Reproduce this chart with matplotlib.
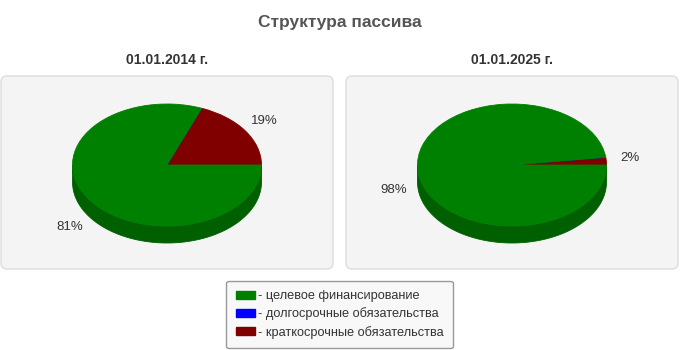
import matplotlib.pyplot as plt
import numpy as np
from matplotlib.patches import FancyBboxPatch, Polygon, Patch

plt.rcParams['font.family'] = ['Liberation Sans', 'DejaVu Sans']

series = ['целевое финансирование', 'долгосрочные обязательства', 'краткосрочные обязательства']
colors = ['#008000', '#0000ff', '#800000']
side_colors = ['#006000', '#0000c0', '#600000']
dates = ['01.01.2014 г.', '01.01.2025 г.']
# order in which slices are drawn (counterclockwise from 3 o'clock)
vals_2014 = [81, 0, 19]
vals_2025 = [98, 0, 2]
slice_order = [2, 1, 0]

W, H = 680, 350
fig = plt.figure(figsize=(6.8, 3.5), dpi=100)
bg = fig.add_axes([0, 0, 1, 1])
bg.set_xlim(0, W)
bg.set_ylim(H, 0)
bg.axis('off')

bg.text(340, 22, 'Структура пассива', ha='center', va='center',
        fontsize=12.5, fontweight='bold', color='#555555')

RX, RY, DEPTH = 94.5, 61.0, 17.0


def draw_pie(cx, cy, vals, title, panel_x):
    bg.add_patch(FancyBboxPatch((panel_x + 4, 79), 326, 187,
                                boxstyle='round,pad=3,rounding_size=6',
                                fc='#f4f4f4', ec='#dddddd', lw=1))
    bg.text(cx, 60, title, ha='center', va='center', fontsize=10,
            fontweight='bold', color='#333333')
    # axes in px, data units scaled so radius 1 -> RX / RY px
    xl = (-1.4, 1.4)
    yl = (-1.6, 1.3)
    left = cx + xl[0] * RX
    width = (xl[1] - xl[0]) * RX
    bottom = H - (cy - yl[0] * RY)
    height = (yl[1] - yl[0]) * RY
    ax = fig.add_axes([left / W, bottom / H, width / W, height / H])
    d = DEPTH / RY

    ordered = [vals[i] for i in slice_order]
    cols = [colors[i] for i in slice_order]
    scols = [side_colors[i] for i in slice_order]
    total = float(sum(ordered))
    start = 0.0
    for v, sc in zip(ordered, scols):
        a0 = start
        a1 = start + 360.0 * v / total
        start = a1
        lo, hi = max(a0, 180.0), min(a1, 360.0)
        if hi > lo:
            t = np.radians(np.linspace(lo, hi, 120))
            xs = np.cos(t)
            ys = np.sin(t)
            pts = np.concatenate([np.column_stack([xs, ys]),
                                  np.column_stack([xs[::-1], ys[::-1] - d])])
            ax.add_patch(Polygon(pts, closed=True, fc=sc, ec=sc, lw=0.6))

    ax.pie(ordered, colors=cols, startangle=0, counterclock=True, radius=1,
           wedgeprops=dict(linewidth=0.6))
    for w, c in zip(ax.patches[-len(ordered):], cols):
        w.set_edgecolor(c)
    ax.set_aspect('auto')
    ax.set_xlim(*xl)
    ax.set_ylim(*yl)
    ax.axis('off')

    start = 0.0
    for v in ordered:
        a = np.radians(start + 180.0 * v / total)
        start += 360.0 * v / total
        if v == 0:
            continue
        lx = 1.25 * np.cos(a)
        ly = 1.22 * np.sin(a)
        if np.sin(a) < 0:
            ly -= d + 0.05
        else:
            ly += 0.04
        ax.text(lx, ly, f'{v}%', ha='center', va='center', fontsize=9.5,
                color='#333333')


draw_pie(167, 165, vals_2014, dates[0], 0)
draw_pie(512, 165, vals_2025, dates[1], 345)

handles = [Patch(fc=c, ec=c) for c in colors]
leg = fig.legend(handles, ['- ' + s for s in series], loc='center',
                 bbox_to_anchor=(339.5 / W, 1 - 314.5 / H), fontsize=9.2,
                 frameon=True, fancybox=True, handlelength=1.5, handleheight=0.5,
                 handletextpad=0.2, labelspacing=0.4, borderpad=0.75,
                 borderaxespad=0)
leg.get_frame().set_facecolor('#f8f8f8')
leg.get_frame().set_edgecolor('#999999')
leg.get_frame().set_alpha(1)
for t in leg.get_texts():
    t.set_color('#333333')

fig.savefig('out.png', dpi=100)
